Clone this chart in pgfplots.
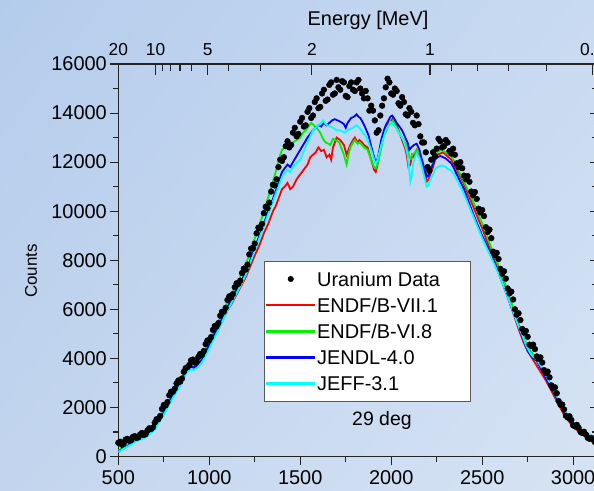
\documentclass[border=0pt]{standalone}
\usepackage{pgfplots}
\pgfplotsset{compat=1.18}
\usetikzlibrary{shadings}
\usepackage{fontspec}
\setmainfont{Liberation Sans}
\definecolor{axc}{RGB}{35,35,35}
\definecolor{bgUL}{RGB}{180,204,236}
\definecolor{bgUR}{RGB}{200,218,241}
\definecolor{bgLL}{RGB}{195,213,238}
\definecolor{bgLR}{RGB}{214,227,244}
\definecolor{cRed}{RGB}{255,0,0}
\definecolor{cGreen}{RGB}{0,240,0}
\definecolor{cBlue}{RGB}{0,0,255}
\definecolor{cCyan}{RGB}{0,255,255}
\pgfplotsset{
  common/.style={
    at={(118.3bp,34.5bp)}, anchor=south west,
    scale only axis, width=477.6bp, height=392.5bp,
    xmin=500, xmax=3125, ymin=0, ymax=16000,
    scaled ticks=false,
    axis line style={axc, line width=1.1bp},
    every tick/.style={axc, line width=1.1bp},
    /pgf/number format/assume math mode=true,
    /pgf/number format/1000 sep={},
  },
  modelline/.style={line width=1.8bp, no marks},
  lineleg/.style={legend image code/.code={\fill[fill=#1] (0bp,-0.45bp) rectangle (47bp,0.45bp);}},
  dataleg/.style={legend image code/.code={\fill[black] (23.5bp,0bp) circle[radius=2.6bp];}},
}
\begin{document}
\begin{tikzpicture}
\useasboundingbox (0,0) rectangle (594bp,491bp);
\shade[upper left=bgUL, upper right=bgUR, lower left=bgLL, lower right=bgLR] (0,0) rectangle (594bp,491bp);

% top energy axis
\begin{axis}[common, axis x line*=top, hide y axis,
  tick align=inside, major tick length=11bp, minor tick length=7bp,
  xtick={500,705,991,1564,2213,3105},
  xticklabels={20,10,5,2,1,0.5},
  minor xtick={744,788,839,903,1108,1282,2332,2473,2643,2854},
  xticklabel style={font=\fontsize{17.4}{20}\selectfont, yshift=5bp},
]
\end{axis}

% right axis
\begin{axis}[common, axis y line*=right, hide x axis,
  tick align=inside, major tick length=6bp, minor tick length=3.5bp,
  ytick={0,2000,...,16000}, minor y tick num=1, yticklabels={},
]
\end{axis}

% main axis
\begin{axis}[common, axis x line*=bottom, axis y line*=left,
  tick align=outside, major tick length=8bp, minor tick length=5bp,
  xtick={500,1000,...,3000}, minor x tick num=1,
  ytick={0,2000,...,16000}, minor y tick num=1,
  ticklabel style={font=\fontsize{20}{24}\selectfont},
  xticklabel style={yshift=-4.7bp, inner sep=1bp},
  legend cell align=left,
  legend style={at={(axis description cs:0.305,0.498)}, anchor=north west,
    draw=axc!75, line width=0.8bp, fill=white,
    font=\fontsize{20}{24}\selectfont,
    inner xsep=2bp, inner ysep=0bp, row sep=-9bp,
    nodes={text height=24.1bp, text depth=9bp, inner ysep=1bp}},
]
\addplot[only marks, mark=*, mark size=2.9bp, mark options={fill=black, draw=black}, dataleg]
coordinates {
(500,560)(520,480)(540,690)(560,640)(580,800)(600,760)(620,900)(640,880)(660,1060)(680,1120)
(700,1380)(720,1520)(740,1940)(760,2080)(780,2500)(800,2640)(820,2980)(840,3050)(860,3450)(880,3640)
(900,3920)(920,3830)(940,4060)(960,4150)(980,4580)(1000,4740)(1020,5160)(1040,5300)(1060,5740)(1080,5900)
(1100,6380)(1120,6480)(1140,6900)(1160,7040)(1180,7480)(1200,7620)(1220,8240)(1240,8480)(1260,9100)(1280,9300)
(1300,9920)(1320,10120)(1340,10800)(1360,11050)(1380,11800)(1400,12050)(1420,12650)(1440,12600)(1460,13200)(1480,13050)
(1500,13650)(1520,13450)(1540,14050)(1560,13800)(1580,14450)(1600,14200)(1620,14800)(1640,14500)(1660,15150)(1680,14750)
(1700,15350)(1720,14950)(1740,15250)(1760,14650)(1780,15250)(1800,14900)(1820,15350)(1840,14800)(1860,14900)(1880,14100)
(1900,14100)(1920,13200)(1940,13900)(1960,14600)(1980,15400)(2000,14800)(2020,15000)(2040,14400)(2060,14650)(2080,13950)
(2100,14200)(2120,13600)(2140,13900)(2160,13050)(2180,12800)(2200,11800)(2220,12100)(2240,12250)(2260,12950)(2280,12600)
(2300,12900)(2320,12450)(2340,12550)(2360,11950)(2380,12000)(2400,11450)(2420,11430)(2440,10800)(2460,10780)(2480,10100)
(2500,10050)(2520,9350)(2540,9250)(2560,8350)(2580,8300)(2600,7650)(2620,7550)(2640,6850)(2660,6720)(2680,6000)
(2700,5840)(2720,5200)(2740,5120)(2760,4560)(2780,4560)(2800,4080)(2820,4040)(2840,3520)(2860,3460)(2880,2900)
(2900,2820)(2920,2260)(2940,2120)(2960,1660)(2980,1640)(3000,1270)(3020,1290)(3040,1000)(3060,1010)(3080,760)
(3100,760)(3120,580)
(510,600)(530,540)(550,720)(570,660)(590,830)(610,780)(630,960)(650,910)(670,1150)(690,1180)
(710,1520)(730,1650)(750,2100)(770,2220)(790,2640)(810,2760)(830,3100)(850,3180)(870,3600)(890,3730)
(910,3950)(930,3880)(950,4180)(970,4300)(990,4730)(1010,4870)(1030,5320)(1050,5440)(1070,5900)(1090,6060)
(1110,6530)(1130,6620)(1150,7060)(1170,7170)(1190,7660)(1210,7820)(1230,8480)(1250,8680)(1270,9330)(1290,9480)
(1310,10180)(1330,10350)(1350,11080)(1370,11300)(1390,12100)(1410,12200)(1430,12850)(1450,12700)(1470,13400)(1490,13150)
(1510,13800)(1530,13500)(1550,14200)(1570,13900)(1590,14600)(1610,14250)(1630,14950)(1650,14550)(1670,15250)(1690,14800)
(1710,15050)(1730,15300)(1750,14700)(1770,15100)(1790,14950)(1810,15250)(1830,15000)(1850,14600)(1870,14600)(1890,14300)
(1910,13700)(1930,13300)(1950,14300)(1970,15050)(1990,15250)(2010,14750)(2030,14900)(2050,14300)(2070,14450)(2090,13900)
(2110,14050)(2130,13500)(2150,13550)(2170,12800)(2190,12400)(2210,11650)(2230,12400)(2250,12550)(2270,12850)(2290,12650)
(2310,12800)(2330,12350)(2350,12300)(2370,11800)(2390,11750)(2410,11300)(2430,11200)(2450,10650)(2470,10500)(2490,9950)
(2510,9800)(2530,9150)(2550,8900)(2570,8200)(2590,8050)(2610,7450)(2630,7250)(2650,6650)(2670,6400)(2690,5780)
(2710,5560)(2730,5050)(2750,4880)(2770,4500)(2790,4380)(2810,3980)(2830,3830)(2850,3400)(2870,3230)(2890,2780)
(2910,2580)(2930,2110)(2950,1920)(2970,1590)(2990,1490)(3010,1230)(3030,1170)(3050,960)(3070,900)(3090,720)
(3110,680)
};
\addlegendentry{\makebox[149bp][l]{Uranium Data}}

\addplot[modelline, color=cRed, lineleg=cRed] coordinates {
(500,200)(525,320)(550,420)(575,540)(600,650)(625,720)(650,800)(675,960)(700,1150)(725,1450)(750,1800)(775,2150)(800,2500)(825,2800)(850,3100)(865,3350)(880,3550)(900,3700)(915,3650)(930,3700)(945,3800)(960,3950)(980,4200)(1000,4500)(1025,4850)(1050,5200)(1075,5600)(1100,5950)(1125,6250)(1150,6600)(1175,6950)(1200,7300)(1225,7750)(1250,8200)(1275,8600)(1300,9100)(1325,9500)(1350,10000)(1365,10200)(1380,10500)(1400,10900)(1415,11000)(1430,11150)(1445,10900)(1460,11000)(1480,11300)(1500,11500)(1520,11700)(1540,11900)(1555,12200)(1570,12300)(1585,12400)(1600,12600)(1615,12450)(1630,12500)(1645,12200)(1660,12300)(1670,12100)(1680,12600)(1700,13000)(1720,12900)(1740,12700)(1755,12300)(1765,12500)(1775,12700)(1790,12900)(1800,13000)(1815,12800)(1825,12900)(1840,12800)(1850,12700)(1870,12600)(1890,12100)(1905,11700)(1915,11600)(1925,11900)(1940,12500)(1960,13200)(1975,13400)(1985,13600)(2000,13700)(2010,13800)(2020,13600)(2030,13500)(2045,13200)(2060,12900)(2075,12600)(2085,12300)(2095,11800)(2105,11900)(2115,12300)(2125,12200)(2140,12500)(2155,12300)(2165,12000)(2180,11600)(2195,11200)(2205,11300)(2215,11500)(2230,11800)(2240,12100)(2255,12300)(2270,12350)(2285,12400)(2300,12300)(2315,12200)(2330,12100)(2345,11900)(2360,11700)(2380,11400)(2400,11100)(2425,10650)(2450,10200)(2475,9750)(2500,9300)(2525,8800)(2550,8300)(2575,7850)(2600,7400)(2625,6850)(2650,6300)(2675,5750)(2700,5200)(2725,4700)(2740,4450)(2750,4300)(2775,4000)(2800,3700)(2825,3400)(2850,3100)(2875,2750)(2900,2400)(2925,2050)(2950,1700)(2975,1450)(3000,1200)(3025,1050)(3050,900)(3075,780)(3100,650)(3125,550)
};
\addlegendentry{ENDF/B-VII.1}

\addplot[modelline, color=cGreen, lineleg=cGreen] coordinates {
(500,250)(525,350)(550,450)(575,580)(600,700)(625,780)(650,850)(675,1000)(700,1200)(725,1550)(750,1900)(775,2250)(800,2600)(825,2900)(850,3200)(865,3450)(880,3700)(900,3850)(915,3800)(930,3850)(945,3950)(960,4100)(980,4400)(1000,4700)(1025,5100)(1050,5500)(1075,5900)(1100,6300)(1125,6650)(1150,7000)(1175,7400)(1200,7800)(1225,8350)(1250,8900)(1275,9400)(1300,10000)(1325,10600)(1350,11200)(1375,11850)(1390,12300)(1400,12500)(1415,12600)(1430,12700)(1445,12600)(1460,12800)(1480,12900)(1500,13000)(1515,13200)(1530,13300)(1545,13450)(1560,13600)(1575,13500)(1590,13400)(1610,13200)(1625,12950)(1640,12800)(1655,12750)(1665,12700)(1680,12950)(1690,12900)(1705,12850)(1715,12800)(1730,12500)(1740,12300)(1755,11900)(1765,12300)(1775,12600)(1790,12800)(1800,12900)(1815,12750)(1825,12800)(1840,12700)(1850,12600)(1870,12500)(1890,12100)(1905,11800)(1915,11750)(1925,11950)(1940,12400)(1960,13100)(1975,13300)(1985,13500)(2000,13600)(2010,13700)(2020,13550)(2030,13400)(2045,13200)(2060,13000)(2075,12800)(2085,12700)(2100,12200)(2108,12150)(2115,12300)(2125,12350)(2140,12500)(2155,12350)(2165,12100)(2180,11800)(2195,11500)(2205,11550)(2215,11700)(2230,12000)(2240,12200)(2255,12400)(2270,12500)(2285,12450)(2300,12400)(2315,12300)(2330,12250)(2345,12050)(2360,11800)(2380,11500)(2400,11200)(2425,10800)(2450,10400)(2475,9950)(2500,9500)(2525,9000)(2550,8500)(2575,8050)(2600,7600)(2625,7050)(2650,6500)(2675,5950)(2700,5400)(2725,4900)(2740,4650)(2750,4500)(2775,4200)(2800,3900)(2825,3600)(2850,3300)(2875,2900)(2900,2500)(2925,2150)(2950,1800)(2975,1550)(3000,1300)(3025,1150)(3050,1000)(3075,870)(3100,750)(3125,650)
};
\addlegendentry{ENDF/B-VI.8}

\addplot[modelline, color=cBlue, lineleg=cBlue] coordinates {
(500,200)(525,320)(550,420)(575,540)(600,650)(625,720)(650,800)(675,960)(700,1150)(725,1450)(750,1800)(775,2150)(800,2500)(825,2800)(850,3100)(865,3350)(880,3550)(900,3650)(915,3620)(930,3700)(945,3800)(960,3950)(980,4250)(1000,4550)(1025,4950)(1050,5300)(1075,5700)(1100,6100)(1125,6450)(1150,6800)(1175,7150)(1200,7500)(1225,8000)(1250,8500)(1275,9000)(1300,9500)(1325,10000)(1350,10500)(1375,11050)(1400,11600)(1415,11750)(1430,11900)(1445,11800)(1460,12000)(1480,12250)(1500,12500)(1520,12750)(1540,13000)(1555,13150)(1570,13300)(1585,13400)(1600,13500)(1615,13450)(1630,13600)(1645,13500)(1660,13600)(1675,13700)(1690,13750)(1705,13700)(1720,13650)(1740,13550)(1750,13400)(1760,13600)(1780,13800)(1795,13850)(1810,13950)(1820,13850)(1830,13800)(1845,13600)(1855,13450)(1875,13100)(1895,12500)(1910,12100)(1920,12000)(1930,12300)(1945,12900)(1960,13300)(1970,13500)(1985,13700)(1995,13850)(2005,13900)(2015,13800)(2030,13600)(2040,13500)(2055,13350)(2066,13200)(2080,12950)(2090,12800)(2100,12500)(2110,12600)(2125,12700)(2140,12750)(2155,12500)(2165,12200)(2180,11800)(2195,11400)(2205,11450)(2215,11700)(2230,11900)(2240,12100)(2255,12200)(2270,12250)(2285,12200)(2300,12150)(2315,12050)(2330,11950)(2345,11750)(2360,11500)(2380,11200)(2400,10900)(2425,10400)(2450,9900)(2475,9450)(2500,9000)(2525,8600)(2550,8200)(2575,7750)(2600,7300)(2625,6800)(2650,6300)(2675,5800)(2700,5300)(2725,4800)(2740,4500)(2750,4300)(2765,4150)(2775,4050)(2800,3900)(2825,3550)(2850,3200)(2875,2850)(2900,2500)(2925,2150)(2950,1800)(2975,1550)(3000,1300)(3025,1150)(3050,1000)(3075,900)(3100,800)(3125,700)
};
\addlegendentry{JENDL-4.0}

\addplot[modelline, color=cCyan, lineleg=cCyan] coordinates {
(500,180)(525,300)(550,400)(575,510)(600,620)(625,700)(650,780)(675,930)(700,1100)(725,1400)(750,1700)(775,2050)(800,2400)(825,2700)(850,3000)(865,3250)(880,3450)(900,3550)(915,3520)(930,3600)(945,3700)(960,3850)(980,4100)(1000,4400)(1025,4800)(1050,5150)(1075,5550)(1100,5950)(1125,6300)(1150,6650)(1175,7000)(1200,7400)(1225,7900)(1250,8400)(1275,8900)(1300,9400)(1325,9900)(1350,10400)(1375,10900)(1400,11400)(1415,11550)(1430,11700)(1445,11600)(1460,11800)(1480,11950)(1500,12100)(1520,12450)(1540,12800)(1555,13050)(1570,13300)(1585,13400)(1600,13500)(1615,13600)(1626,13700)(1640,13550)(1650,13500)(1665,13450)(1680,13400)(1700,13300)(1715,13300)(1730,13250)(1745,13200)(1760,13300)(1775,13350)(1790,13400)(1800,13450)(1810,13500)(1825,13400)(1835,13300)(1850,13150)(1865,13000)(1890,12500)(1910,12000)(1918,11950)(1925,12100)(1945,12700)(1960,13050)(1970,13300)(1985,13500)(1995,13650)(2005,13600)(2015,13500)(2030,13350)(2040,13200)(2055,13050)(2066,12900)(2080,12600)(2090,12300)(2100,11600)(2105,11200)(2112,11400)(2120,11900)(2130,12200)(2140,12350)(2155,12150)(2165,11900)(2180,11450)(2195,11000)(2205,11050)(2215,11300)(2230,11500)(2240,11700)(2255,11800)(2270,11850)(2285,11850)(2300,11800)(2315,11700)(2330,11650)(2345,11500)(2360,11300)(2380,11000)(2400,10700)(2425,10250)(2450,9800)(2475,9350)(2500,8900)(2525,8500)(2550,8100)(2575,7700)(2600,7300)(2625,6800)(2650,6300)(2675,5800)(2700,5300)(2725,4850)(2740,4550)(2750,4400)(2765,4200)(2775,4100)(2800,3950)(2825,3650)(2850,3300)(2875,2950)(2900,2600)(2925,2250)(2950,1900)(2975,1650)(3000,1400)(3025,1250)(3050,1050)(3075,950)(3100,850)(3125,750)
};
\addlegendentry{JEFF-3.1}

\node[font=\fontsize{19.5}{23}\selectfont] at (axis cs:1949,1488) {29 deg};
\end{axis}

\node[anchor=base, font=\fontsize{20}{24}\selectfont] at (368bp,465.3bp) {Energy [MeV]};
\node[rotate=90, font=\fontsize{17}{20}\selectfont] at (31bp,220bp) {Counts};
\end{tikzpicture}
\end{document}
